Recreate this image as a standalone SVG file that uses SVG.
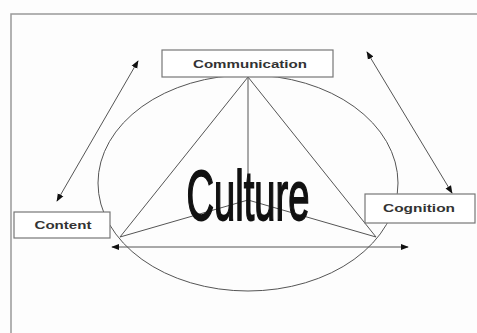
<svg xmlns="http://www.w3.org/2000/svg" width="477" height="333" viewBox="0 0 477 333">
<style>
.box{fill:#fff;stroke:#777;stroke-width:1.2}
.lbl{font-family:"Liberation Sans",Arial,sans-serif;font-weight:bold;font-size:11px;fill:#333;text-anchor:middle}
.ln{stroke:#555;stroke-width:1;fill:none}
</style>
<defs>
<marker id="ah" viewBox="0 0 10 10" refX="9" refY="5" markerWidth="8" markerHeight="8" orient="auto-start-reverse" markerUnits="userSpaceOnUse">
<path d="M0,1 L10,5 L0,9 z" fill="#111"/>
</marker>
</defs>
<rect width="477" height="333" fill="#fdfdfd"/>
<path d="M11,333 V14 H477" fill="none" stroke="#999" stroke-width="1.5"/>
<g id="connectors">
<ellipse class="ln" cx="248" cy="183" rx="150" ry="108" stroke="#777"/>
<path class="ln" d="M248,77 L120,237 M248,77 L376,237 M248,77 L248,200 M120,237 L248,200 L376,237"/>
<line class="ln" x1="112" y1="247" x2="408" y2="247" marker-start="url(#ah)" marker-end="url(#ah)"/>
<line class="ln" x1="138" y1="61" x2="57" y2="201" marker-start="url(#ah)" marker-end="url(#ah)"/>
<line class="ln" x1="367" y1="52" x2="452" y2="193" marker-start="url(#ah)" marker-end="url(#ah)"/>
</g>
<g id="culture">
<text transform="translate(248,220) scale(0.545,1)" x="0" y="0" font-family="'Liberation Sans',Arial,sans-serif" font-size="70" fill="#111" stroke="#111" stroke-width="1.8" text-anchor="middle">Culture</text>
</g>
<g id="communication">
<rect class="box" x="162" y="50" width="171" height="27"/>
<text class="lbl" x="250" y="68" textLength="114" lengthAdjust="spacingAndGlyphs">Communication</text>
</g>
<g id="content">
<rect class="box" x="14" y="212" width="96" height="26"/>
<text class="lbl" x="63" y="229" textLength="57" lengthAdjust="spacingAndGlyphs">Content</text>
</g>
<g id="cognition">
<rect class="box" x="365" y="194" width="110" height="29"/>
<text class="lbl" x="419" y="212" textLength="72" lengthAdjust="spacingAndGlyphs">Cognition</text>
</g>
</svg>
